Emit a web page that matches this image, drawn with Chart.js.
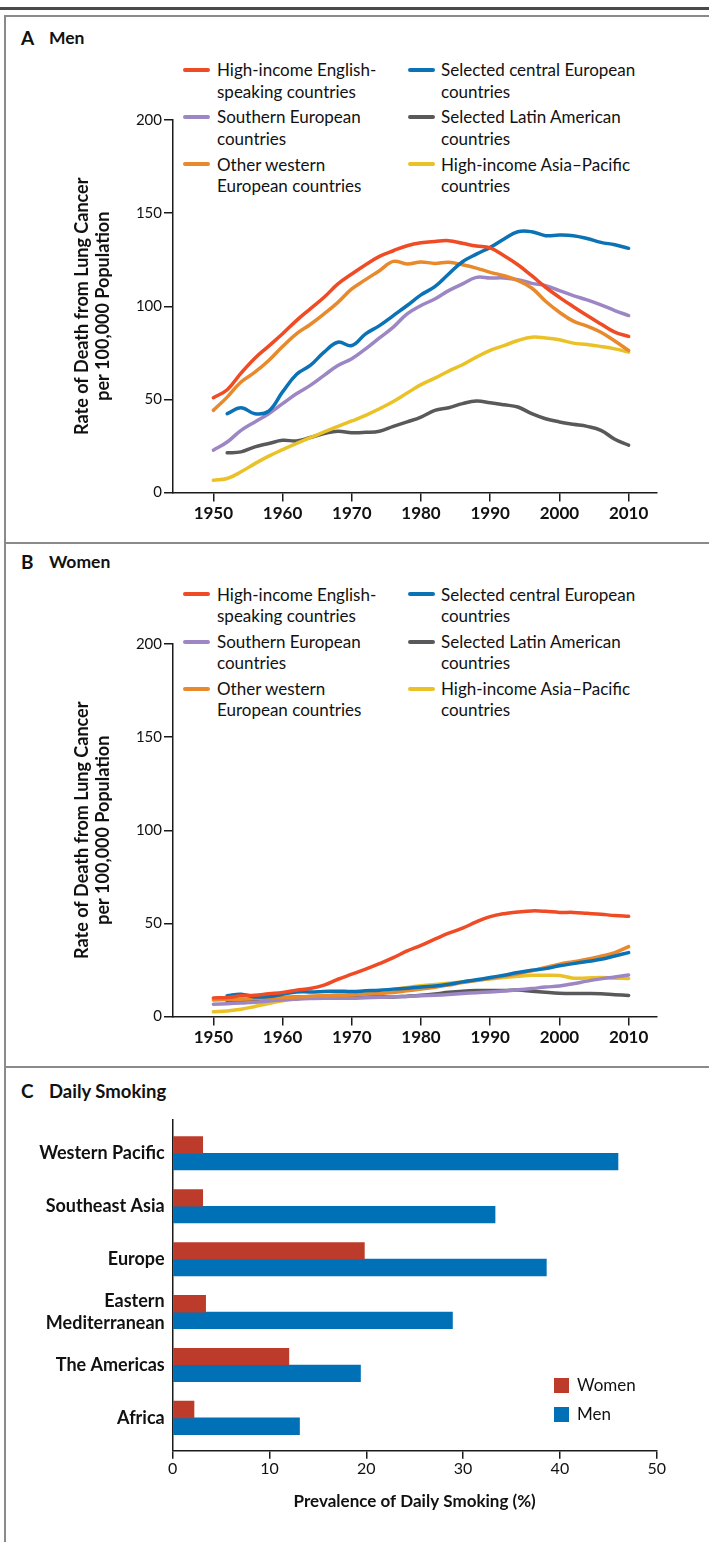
<!DOCTYPE html>
<html>
<head>
<meta charset="utf-8">
<script src="https://cdn.jsdelivr.net/npm/chart.js@4.4.1/dist/chart.umd.min.js"></script>
<style>
  body { margin: 0; background: #fff; }
  #page { position: relative; width: 709px; height: 1542px; overflow: hidden; font-family: Lato, sans-serif; color: #111; }
  canvas { position: absolute; left: 0; }
  .rule { position: absolute; background: #8a8a8a; z-index: 2; }
  .letter { position: absolute; left: 21px; font-weight: bold; font-size: 19px; line-height: 24px; }
  .name { position: absolute; left: 49px; font-weight: bold; font-size: 17.5px; line-height: 24px; }
  .lg { position: absolute; font-size: 17px; line-height: 21.6px; white-space: nowrap; }
  .sw { position: absolute; width: 27px; height: 4px; border-radius: 2px; }
  .box { position: absolute; width: 15px; height: 15px; }
</style>
</head>
<body>
<div id="page">
  <div class="rule" style="left:0;top:7px;width:709px;height:3px;background:#4a4a4a"></div>
  <div class="rule" style="left:4px;top:15px;width:705px;height:1.5px"></div>
  <div class="rule" style="left:4px;top:15px;width:1.5px;height:1527px"></div>
  <div class="rule" style="left:4px;top:542px;width:705px;height:1.5px"></div>
  <div class="rule" style="left:4px;top:1066px;width:705px;height:1.5px"></div>

  <div class="letter" style="top:26px">A</div><div class="name" style="top:26px">Men</div>
  <div class="letter" style="top:550px">B</div><div class="name" style="top:550px">Women</div>
  <div class="letter" style="top:1079px">C</div><div class="name" style="top:1079px;font-size:18.5px">Daily Smoking</div>

  <div id="legendA"></div>
  <div id="legendB"></div>

  <canvas id="menChart" width="709" height="542" style="top:0px"></canvas>
  <canvas id="womenChart" width="709" height="542" style="top:524px"></canvas>
  <canvas id="smokeChart" width="709" height="476" style="top:1066px"></canvas>

  <div class="box" style="left:554px;top:1378px;background:#bc3b2b"></div>
  <div class="lg" style="left:577px;top:1374px">Women</div>
  <div class="box" style="left:554px;top:1407px;background:#0071b6"></div>
  <div class="lg" style="left:577px;top:1403px">Men</div>
</div>

<script>
Chart.defaults.font.family = 'Lato, sans-serif'
Chart.defaults.color = '#111'

// panels A and B: death rates per 100,000, every second year
const years = [1950, 1952, 1954, 1956, 1958, 1960, 1962, 1964, 1966, 1968,
  1970, 1972, 1974, 1976, 1978, 1980, 1982, 1984, 1986, 1988,
  1990, 1992, 1994, 1996, 1998, 2000, 2002, 2004, 2006, 2008, 2010]

const menEnglish = [50.9, 55.2, 64.1, 72.1, 78.6, 85.2, 92.3, 98.6, 104.8, 112, 117.3, 122.3, 126.8, 129.8, 132.5, 134.1, 134.8, 135.2, 133.8, 132.3, 131.3, 127.1, 122.3, 116.4, 110.2, 104.8, 99.8, 95, 90.5, 86.1, 83.8]
const menCentral = [null, 42.3, 45.5, 42.3, 43.7, 54, 63.4, 68.2, 75.4, 80.7, 78.9, 85.2, 89.6, 95, 100.4, 106.1, 110.5, 117.3, 123.9, 128, 131.6, 136.1, 140, 140, 137.9, 138.2, 137.9, 136.4, 134.3, 133, 131.1]
const menWestern = [44.1, 51.2, 59.3, 64.6, 70.9, 78.4, 85.2, 90.2, 95.9, 102.1, 109.3, 114.3, 119.1, 124.1, 122.7, 123.8, 123, 123.6, 122.3, 120.5, 118.2, 116.4, 113.8, 109.8, 102.7, 96.8, 92, 89.3, 86, 81.3, 76.3]
const menSouthern = [22.7, 27.1, 33.4, 37.9, 42.3, 47.7, 53, 57.5, 62.9, 68.2, 71.8, 77.1, 83, 88.8, 95.9, 100.4, 103.9, 108.4, 112, 115.5, 115.2, 115.2, 114.3, 112.3, 111.1, 108.4, 105.7, 103.4, 100.7, 97.7, 95]
const menLatin = [null, 21.3, 21.8, 24.5, 26.3, 28, 27.7, 29.5, 31.6, 32.9, 32.1, 32.3, 32.9, 35.5, 37.9, 40.5, 44.1, 45.5, 47.7, 49.1, 48.2, 47.1, 45.9, 42.3, 39.6, 37.9, 36.6, 35.5, 33.4, 28.6, 25.4]
const menAsia = [6.6, 7.5, 11.1, 15.5, 19.5, 23, 26.3, 29.5, 32.5, 35.5, 38.4, 41.4, 45, 48.9, 53.4, 57.9, 61.4, 65.2, 68.6, 72.7, 76.3, 78.9, 81.6, 83.4, 83, 82, 80.2, 79.5, 78.4, 77.1, 75.4]

const womenEnglish = [10, 10.2, 11.1, 11.4, 12.2, 12.9, 14.1, 15, 16.8, 20, 22.7, 25.4, 28.4, 31.6, 35.2, 38.2, 41.5, 44.7, 47.4, 50.8, 53.6, 55.2, 56.1, 56.7, 56.5, 55.9, 55.9, 55.4, 54.9, 54.2, 53.8]
const womenCentral = [null, 11.1, 12, 10.5, 10.7, 12, 13.2, 13.2, 13.4, 13.6, 13.4, 13.8, 14.1, 14.7, 15.2, 15.9, 16.4, 17.3, 18.6, 19.7, 20.9, 22.2, 23.6, 24.8, 25.7, 27.2, 28.4, 29.5, 30.7, 32.5, 34.3]
const womenWestern = [8.9, 9.1, 9.3, 9.6, 9.9, 10.2, 10.5, 10.8, 11.1, 11.3, 11.6, 12, 12.4, 12.9, 13.8, 14.7, 15.7, 16.9, 18.2, 19.3, 20.4, 21.7, 23, 24.5, 26.3, 28.1, 29.4, 30.7, 32.4, 34.3, 37.5]
const womenSouthern = [6.6, 6.9, 7.3, 7.7, 8.3, 8.9, 9.3, 9.6, 9.8, 9.8, 9.8, 10.1, 10.4, 10.6, 10.8, 11.1, 11.4, 11.8, 12.3, 12.8, 13.2, 13.7, 14.3, 15, 15.8, 16.4, 17.6, 19, 20.2, 21.2, 22.3]
const womenLatin = [null, 8.2, 8.2, 8.6, 9.4, 10, 10.5, 10.7, 10.8, 10.9, 11, 11.2, 10.8, 10.5, 10.9, 11.4, 12.1, 13, 13.6, 13.9, 13.9, 14, 14.2, 13.6, 13, 12.5, 12.3, 12.3, 12.2, 11.7, 11.3]
const womenAsia = [2.5, 3, 3.9, 5.4, 7, 8.4, 9.5, 10.4, 11.2, 11.8, 12.3, 12.7, 13.4, 14.5, 15.6, 16.5, 17.2, 17.8, 18.6, 19.5, 20.2, 21, 21.6, 22.1, 22.2, 22, 20.6, 20.7, 20.9, 20.6, 20.4]

const groupNames = [
  ['High-income English-', 'speaking countries'],
  ['Selected central European', 'countries'],
  ['Southern European', 'countries'],
  ['Selected Latin American', 'countries'],
  ['Other western', 'European countries'],
  ['High-income Asia\u2013Pacific', 'countries']
]
const groupColors = ['#ef4b24', '#0b72b6', '#9c86c4', '#59595b', '#e8892c', '#eac228']

const yearTicks = [1950, 1960, 1970, 1980, 1990, 2000, 2010]
const rateTicks = [0, 50, 100, 150, 200]

// panel C: daily smoking prevalence (%)
const regions = ['Western Pacific', 'Southeast Asia', 'Europe', ['Eastern', 'Mediterranean'], 'The Americas', 'Africa']
const womenSmoking = [3.1, 3.1, 19.8, 3.4, 12.0, 2.2]
const menSmoking = [46.0, 33.3, 38.6, 28.9, 19.4, 13.1]
const pctTicks = [0, 10, 20, 30, 40, 50]

const ink = '#1a1a1a'

function pairs(vals) {
  return years.map((x, i) => ({ x: x, y: vals[i] }))
}

// draw order: first dataset ends up on top
const drawOrder = [0, 1, 4, 2, 5, 3]

function legend(id, top) {
  const box = document.getElementById(id)
  let html = ''
  groupNames.forEach((lines, i) => {
    const col = i % 2
    const row = Math.floor(i / 2)
    const cy = top + row * 47.2
    const sx = col ? 408 : 183
    const tx = col ? 441 : 217
    html += '<div class="sw" style="left:' + sx + 'px;top:' + (cy - 2) + 'px;background:' + groupColors[i] + '"></div>'
    html += '<div class="lg" style="left:' + tx + 'px;top:' + (cy - 10.8) + 'px">' + lines.join('<br>') + '</div>'
  })
  box.innerHTML = html
}

function rateChart(id, series) {
  const ctx = document.getElementById(id).getContext('2d')
  return new Chart(ctx, {
    type: 'line',
    data: {
      datasets: drawOrder.map(i => ({
        label: groupNames[i].join(' '),
        data: pairs(series[i]),
        borderColor: groupColors[i],
        borderWidth: 3.5,
        pointRadius: 0,
        tension: 0.4,
        borderCapStyle: 'round',
        borderJoinStyle: 'round',
        spanGaps: false
      }))
    },
    options: {
      responsive: false,
      animation: false,
      events: [],
      layout: { padding: { top: 120, right: 52, bottom: 0, left: 0 } },
      plugins: { legend: { display: false }, tooltip: { enabled: false } },
      scales: {
        x: {
          type: 'linear',
          min: 1944.17,
          max: 2014.1,
          afterBuildTicks: s => { s.ticks = yearTicks.map(v => ({ value: v })) },
          afterFit: s => { s.height = 49.5 },
          ticks: { callback: v => String(v), font: { size: 17, weight: 'bold' }, padding: 2, color: '#111', maxRotation: 0 },
          grid: { drawOnChartArea: false, tickLength: 9, color: ink, lineWidth: 1.5 },
          border: { color: ink, width: 1.5 }
        },
        y: {
          min: 0,
          max: 200,
          afterBuildTicks: s => { s.ticks = rateTicks.map(v => ({ value: v })) },
          afterFit: s => { s.width = 173 },
          ticks: { font: { size: 15 }, padding: 2, color: '#111' },
          grid: { drawOnChartArea: false, tickLength: 9, color: ink, lineWidth: 1.5 },
          border: { color: ink, width: 1.5 },
          title: {
            display: true,
            text: ['Rate of Death from Lung Cancer', 'per 100,000 Population'],
            font: { size: 18, weight: 'bold', lineHeight: 1.2 },
            color: '#111',
            padding: { top: 70.9, bottom: 0 }
          }
        }
      }
    }
  })
}

legend('legendA', 70)
legend('legendB', 594.3)

rateChart('menChart', [menEnglish, menCentral, menSouthern, menLatin, menWestern, menAsia])
rateChart('womenChart', [womenEnglish, womenCentral, womenSouthern, womenLatin, womenWestern, womenAsia])

new Chart(document.getElementById('smokeChart').getContext('2d'), {
  type: 'bar',
  data: {
    datasets: [
      { label: 'Women', data: womenSmoking.map((v, i) => ({ x: v, y: i })), backgroundColor: '#bc3b2b' },
      { label: 'Men', data: menSmoking.map((v, i) => ({ x: v, y: i })), backgroundColor: '#0071b6' }
    ]
  },
  options: {
    indexAxis: 'y',
    responsive: false,
    animation: false,
    events: [],
    barThickness: 16.7,
    layout: { padding: { top: 54, right: 52.3, bottom: 0, left: 0 } },
    plugins: { legend: { display: false }, tooltip: { enabled: false } },
    scales: {
      x: {
        type: 'linear',
        min: 0,
        max: 50,
        afterBuildTicks: s => { s.ticks = pctTicks.map(v => ({ value: v })) },
        afterFit: s => { s.height = 91.3 },
        ticks: { font: { size: 16 }, padding: 1, color: '#111', maxRotation: 0 },
        grid: { drawOnChartArea: false, tickLength: 8, color: ink, lineWidth: 1.5 },
        border: { color: ink, width: 1.5 },
        title: {
          display: true,
          text: 'Prevalence of Daily Smoking (%)',
          font: { size: 17, weight: 'bold', lineHeight: 1.2 },
          color: '#111',
          padding: { top: 0, bottom: 29.8 }
        }
      },
      y: {
        type: 'linear',
        reverse: true,
        offset: false,
        min: -0.63,
        max: 5.62,
        afterBuildTicks: s => { s.ticks = regions.map((r, i) => ({ value: i })) },
        afterFit: s => { s.width = 172.7 },
        ticks: { callback: v => regions[v], font: { size: 18, weight: 'bold', lineHeight: 1.25 }, padding: 8, color: '#111' },
        grid: { display: false, drawTicks: false },
        border: { color: ink, width: 1.5 }
      }
    }
  }
})
</script>
</body>
</html>
